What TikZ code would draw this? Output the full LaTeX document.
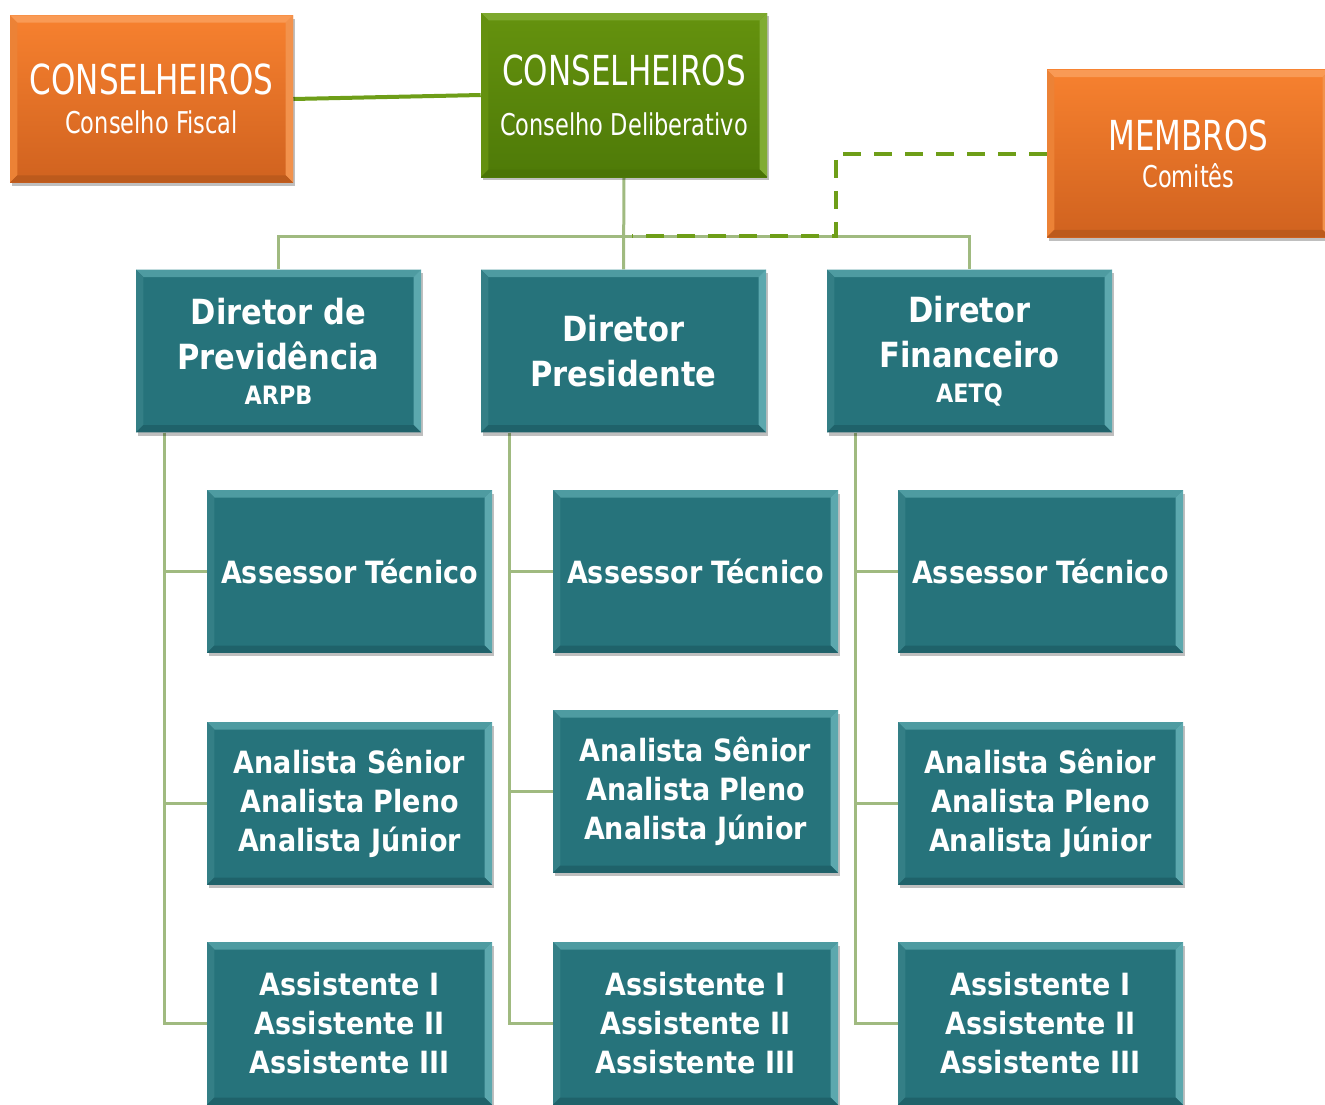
\documentclass[tikz,border=0pt]{standalone}
\usepackage{fontspec}
\setmainfont{DejaVu Sans}[FakeStretch=0.88]
\newfontfamily\regf{DejaVu Sans}[FakeStretch=0.75]
\usetikzlibrary{shadows,calc}
\definecolor{tealc}{HTML}{26737B}
\definecolor{tealtop}{HTML}{4E9BA1}
\definecolor{tealleft}{HTML}{347F86}
\definecolor{tealright}{HTML}{5CA8AE}
\definecolor{tealbot}{HTML}{1F626A}
\definecolor{orgtop}{HTML}{F7812F}
\definecolor{orgbot}{HTML}{D0621F}
\definecolor{orgbtop}{HTML}{F99A55}
\definecolor{orgbleft}{HTML}{EC8236}
\definecolor{orgbright}{HTML}{F2924C}
\definecolor{orgbbot}{HTML}{BC5A1C}
\definecolor{grntop}{HTML}{65920E}
\definecolor{grnbot}{HTML}{4E7A08}
\definecolor{grnbtop}{HTML}{7DA82E}
\definecolor{grnbleft}{HTML}{64900F}
\definecolor{grnbright}{HTML}{80AC33}
\definecolor{grnbbot}{HTML}{4A7406}
\definecolor{sage}{HTML}{A0BA80}
\definecolor{lgreen}{HTML}{6E9E18}
\pgfdeclarelayer{bg}
\pgfsetlayers{bg,main}
\tikzset{
  bevel/.style n args={4}{path picture={
    \fill[#1] (path picture bounding box.north west) -- (path picture bounding box.north east)
      -- ([shift={(-5.5pt,-5.5pt)}]path picture bounding box.north east) -- ([shift={(5.5pt,-5.5pt)}]path picture bounding box.north west) -- cycle;
    \fill[#2] (path picture bounding box.north west) -- ([shift={(5.5pt,-5.5pt)}]path picture bounding box.north west)
      -- ([shift={(5.5pt,5.5pt)}]path picture bounding box.south west) -- (path picture bounding box.south west) -- cycle;
    \fill[#3] (path picture bounding box.north east) -- ([shift={(-5.5pt,-5.5pt)}]path picture bounding box.north east)
      -- ([shift={(-5.5pt,5.5pt)}]path picture bounding box.south east) -- (path picture bounding box.south east) -- cycle;
    \fill[#4] (path picture bounding box.south west) -- ([shift={(5.5pt,5.5pt)}]path picture bounding box.south west)
      -- ([shift={(-5.5pt,5.5pt)}]path picture bounding box.south east) -- (path picture bounding box.south east) -- cycle;
  }},
  box/.style={rectangle, inner sep=0pt, text=white, align=center,
    drop shadow={shadow xshift=1.5pt, shadow yshift=-2.5pt, opacity=0.25, fill=black}},
  tealbox/.style={box, fill=tealc, bevel={tealtop}{tealleft}{tealright}{tealbot},
    minimum width=213.75pt, minimum height=122pt},
  orgbox/.style={box, top color=orgtop, bottom color=orgbot, bevel={orgbtop}{orgbleft}{orgbright}{orgbbot},
    minimum width=212.25pt, minimum height=125.5pt},
  grnbox/.style={box, top color=grntop, bottom color=grnbot, bevel={grnbtop}{grnbleft}{grnbright}{grnbbot},
    minimum width=214.5pt, minimum height=123pt},
  dirfont/.style={font=\bfseries\fontsize{26}{33.75}\selectfont},
  subfont/.style={font=\bfseries\fontsize{23}{29.25}\selectfont},
  conn/.style={draw=sage, line width=2.25pt},
  topconn/.style={draw=lgreen, line width=3pt},
  dashconn/.style={draw=lgreen, line width=3pt, dash pattern=on 13.5pt off 9.75pt},
}
\begin{document}
\begin{tikzpicture}[x=0.75pt,y=-0.75pt]
\useasboundingbox (0,0) rectangle (1325,1104);
\clip (0,0) rectangle (1325,1104);

% top level
\node[orgbox, font=\regf\fontsize{31}{26.25}\selectfont] (fiscal) at (151.5,99)
  {CONSELHEIROS\\[3pt]\fontsize{22.5}{26.25}\selectfont Conselho Fiscal};
\node[grnbox, font=\regf\fontsize{31}{37.5}\selectfont] (delib) at (624,95)
  {CONSELHEIROS\\\fontsize{22.5}{37.5}\selectfont Conselho Deliberativo};
\node[orgbox, font=\regf\fontsize{31}{26.25}\selectfont] (memb) at (1188.5,153.5)
  {MEMBROS\\[1.5pt]\fontsize{22.5}{26.25}\selectfont Comitês};

% directors
\node[tealbox, dirfont] (prev) at (278.5,351)
  {Diretor de\\Previdência\\[-7.5pt]\fontsize{19}{22}\selectfont ARPB};
\node[tealbox, dirfont] (pres) at (623.5,351)
  {Diretor\\Presidente};
\node[tealbox, dirfont] (fin) at (969.5,351)
  {Diretor\\Financeiro\\[-7.5pt]\fontsize{19}{22}\selectfont AETQ};

% sub boxes
\node[tealbox, subfont] (asr1) at (349.5,571.5) {Assessor Técnico};
\node[tealbox, subfont] (asr2) at (695.5,571.5) {Assessor Técnico};
\node[tealbox, subfont] (asr3) at (1040.5,571.5) {Assessor Técnico};
\node[tealbox, subfont] (ana1) at (349.5,803.5) {Analista Sênior\\Analista Pleno\\Analista Júnior};
\node[tealbox, subfont] (ana2) at (695.5,791.5) {Analista Sênior\\Analista Pleno\\Analista Júnior};
\node[tealbox, subfont] (ana3) at (1040.5,803.5) {Analista Sênior\\Analista Pleno\\Analista Júnior};
\node[tealbox, subfont] (ast1) at (349.5,1023.5) {Assistente I\\Assistente II\\Assistente III};
\node[tealbox, subfont] (ast2) at (695.5,1023.5) {Assistente I\\Assistente II\\Assistente III};
\node[tealbox, subfont] (ast3) at (1040.5,1023.5) {Assistente I\\Assistente II\\Assistente III};

\coordinate (bar) at (624,236);
\coordinate (dashcorner) at (836,236);
\coordinate (dashend) at (632,236);

\begin{pgfonlayer}{bg}
  \draw[topconn] (fiscal.east) -- (delib.west);
  \draw[conn] (delib.south) -- (pres.north);
  \draw[conn] (prev.north) |- (bar) -| (fin.north);
  \foreach \d/\n in {prev/1, pres/2, fin/3}{
    \draw[conn] ($(\d.south west)+(28.5,0)$) |- (asr\n.west);
    \draw[conn] ($(\d.south west)+(28.5,0)$) |- (ana\n.west);
    \draw[conn] ($(\d.south west)+(28.5,0)$) |- (ast\n.west);
  }
  \draw[dashconn] (memb.west) -| (dashcorner) -- (dashend);
\end{pgfonlayer}
\end{tikzpicture}
\end{document}
